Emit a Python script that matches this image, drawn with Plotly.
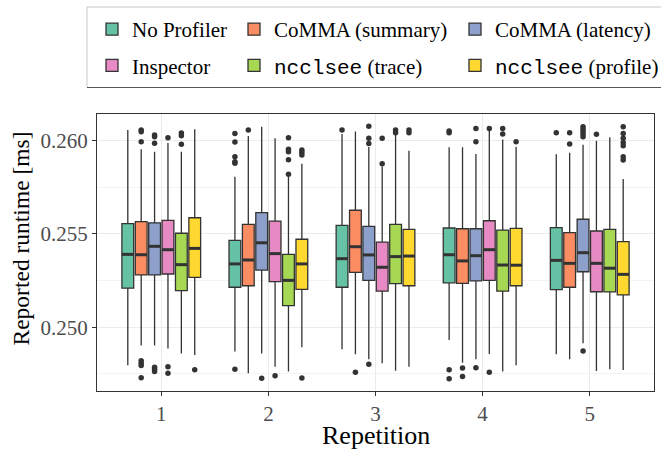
import plotly.graph_objects as go

# ---------------- data ----------------
reps = [1, 2, 3, 4, 5]
series_names = ["No Profiler", "CoMMA (summary)", "CoMMA (latency)", "Inspector",
                "<span style=\"font-family:Liberation Mono\">ncclsee</span> (trace)",
                "<span style=\"font-family:Liberation Mono\">ncclsee</span> (profile)"]
colors = ["#66C2A5", "#FC8D62", "#8DA0CB", "#E78AC3", "#A6D854", "#FFD92F"]

noprof_hi = [0.26055, 0.25805, 0.26034, 0.25963, 0.25925]
noprof_q3 = [0.25554, 0.25465, 0.25545, 0.25531, 0.25533]
noprof_med = [0.25390, 0.25339, 0.25367, 0.25388, 0.25358]
noprof_q1 = [0.25209, 0.25214, 0.25214, 0.25238, 0.25201]
noprof_lo = [0.24797, 0.24870, 0.24882, 0.24932, 0.24856]
noprof_out = [[], [0.26037, 0.25991, 0.25912, 0.25886, 0.25877, 0.24775], [0.26055],
              [0.26050, 0.26041, 0.24773, 0.24725], [0.26041]]

summ_hi = [0.25952, 0.26023, 0.26048, 0.25963, 0.25934]
summ_q3 = [0.25565, 0.25551, 0.25626, 0.25527, 0.25506]
summ_med = [0.25388, 0.25360, 0.25431, 0.25355, 0.25342]
summ_q1 = [0.25280, 0.25222, 0.25294, 0.25235, 0.25214]
summ_lo = [0.24902, 0.24754, 0.24856, 0.24810, 0.24829]
summ_out = [[0.26055, 0.26046, 0.25993, 0.24821, 0.24807, 0.24795, 0.24730], [0.26055],
            [0.24759], [0.24782, 0.24736], [0.26041, 0.25980]]

lat_hi = [0.25939, 0.26073, 0.25965, 0.25927, 0.25977]
lat_q3 = [0.25559, 0.25613, 0.25540, 0.25527, 0.25578]
lat_med = [0.25433, 0.25452, 0.25387, 0.25383, 0.25399]
lat_q1 = [0.25280, 0.25306, 0.25251, 0.25248, 0.25297]
lat_lo = [0.24902, 0.24859, 0.24829, 0.24829, 0.24914]
lat_out = [[0.26028, 0.26019, 0.25984, 0.24786, 0.24775, 0.24763], [0.24727],
           [0.26075, 0.26011, 0.25983, 0.24802], [0.26064, 0.25993, 0.24784],
           [0.26073, 0.26059, 0.26046, 0.26034, 0.26019, 0.24873]]

insp_hi = [0.25986, 0.26011, 0.25860, 0.26050, 0.25998]
insp_q3 = [0.25572, 0.25568, 0.25456, 0.25570, 0.25515]
insp_med = [0.25415, 0.25394, 0.25321, 0.25415, 0.25342]
insp_q1 = [0.25285, 0.25244, 0.25193, 0.25251, 0.25190]
insp_lo = [0.24886, 0.24789, 0.24807, 0.24857, 0.24766]
insp_out = [[0.26014, 0.24789, 0.24754], [0.24741], [0.26011, 0.25875],
            [0.26064, 0.24759], [0.26032]]

trace_hi = [0.25939, 0.25805, 0.26028, 0.26005, 0.26016]
trace_q3 = [0.25503, 0.25390, 0.25551, 0.25520, 0.25524]
trace_med = [0.25335, 0.25251, 0.25378, 0.25333, 0.25316]
trace_q1 = [0.25196, 0.25116, 0.25233, 0.25193, 0.25189]
trace_lo = [0.24859, 0.24763, 0.24768, 0.24763, 0.24775]
trace_out = [[0.26040, 0.26025, 0.25979], [0.26014, 0.25952, 0.25939, 0.25896, 0.25818],
             [0.26055, 0.26041], [0.26064, 0.26034], []]

prof_hi = [0.26060, 0.25875, 0.25944, 0.25966, 0.25793]
prof_q3 = [0.25586, 0.25471, 0.25524, 0.25529, 0.25458]
prof_med = [0.25422, 0.25339, 0.25381, 0.25332, 0.25283]
prof_q1 = [0.25267, 0.25203, 0.25222, 0.25222, 0.25173]
prof_lo = [0.24852, 0.24893, 0.24789, 0.24797, 0.24772]
prof_out = [[0.24773], [0.25948, 0.25936, 0.25921, 0.24729], [0.26055, 0.26041],
            [0.25993], [0.26073, 0.26037, 0.26011, 0.25989, 0.25971, 0.25912, 0.25895]]

y_ticks = [0.250, 0.255, 0.260]

# ---------------- figure ----------------
stats = [
    (noprof_lo, noprof_q1, noprof_med, noprof_q3, noprof_hi, noprof_out),
    (summ_lo, summ_q1, summ_med, summ_q3, summ_hi, summ_out),
    (lat_lo, lat_q1, lat_med, lat_q3, lat_hi, lat_out),
    (insp_lo, insp_q1, insp_med, insp_q3, insp_hi, insp_out),
    (trace_lo, trace_q1, trace_med, trace_q3, trace_hi, trace_out),
    (prof_lo, prof_q1, prof_med, prof_q3, prof_hi, prof_out),
]
legend_for = ["legend", "legend2", "legend3", "legend", "legend2", "legend3"]

n = len(stats)
dodge = 0.75
slot = dodge / n
bw = slot * 0.88
edge = "#333333"

fig = go.Figure()
for i, (lo, q1, med, q3, hi, outs) in enumerate(stats):
    pos = [r + (i - (n - 1) / 2) * slot for r in reps]
    fig.add_trace(go.Box(
        x=pos, lowerfence=lo, q1=q1, median=med, q3=q3, upperfence=hi,
        width=bw, whiskerwidth=0, fillcolor=colors[i],
        line=dict(color=edge, width=1.3), boxpoints=False,
        name=series_names[i], legend=legend_for[i], legendgroup=f"g{i}",
        hoverinfo="skip"))
    mx, my = [], []
    for p, m in zip(pos, med):
        mx += [p - bw / 2, p + bw / 2, None]
        my += [m, m, None]
    fig.add_trace(go.Scatter(x=mx, y=my, mode="lines", line=dict(color=edge, width=3),
                             showlegend=False, hoverinfo="skip"))
    ox, oy = [], []
    for p, o in zip(pos, outs):
        ox += [p] * len(o)
        oy += o
    fig.add_trace(go.Scatter(x=ox, y=oy, mode="markers",
                             marker=dict(color=edge, size=5.5),
                             showlegend=False, hoverinfo="skip"))

font_family = "Liberation Serif"
W, H = 661, 452
ml, mr, mt, mb = 97, 7, 114, 61
pw, ph = W - ml - mr, H - mt - mb

def px2x(px):
    return (px - ml) / pw

def py2y(py):
    return (H - mb - py) / ph

leg_common = dict(orientation="v", bgcolor="rgba(0,0,0,0)", borderwidth=0,
                  font=dict(family=font_family, size=21, color="black"),
                  itemwidth=30, tracegroupgap=6, xanchor="left", yanchor="top",
                  y=py2y(9))

fig.update_layout(
    width=W, height=H,
    margin=dict(l=ml, r=mr, t=mt, b=mb, autoexpand=False),
    paper_bgcolor="white", plot_bgcolor="white",
    font=dict(family=font_family),
    showlegend=True,
    legend=dict(x=px2x(92), **leg_common),
    legend2=dict(x=px2x(234), **leg_common),
    legend3=dict(x=px2x(455), **leg_common),
    xaxis=dict(range=[0.4, 5.6], tickvals=reps, ticktext=[str(r) for r in reps],
               showgrid=True, gridcolor="#EBEBEB", gridwidth=1, zeroline=False,
               ticks="outside", ticklen=4, tickcolor="#333333",
               tickfont=dict(family=font_family, size=21, color="#4D4D4D"),
               showline=True, linecolor="#333333", linewidth=1, mirror=True),
    yaxis=dict(range=[0.24659, 0.26141], tickvals=y_ticks, tickformat=".3f",
               showgrid=True, gridcolor="#EBEBEB", gridwidth=1, zeroline=False,
               minor=dict(dtick=0.0025, showgrid=True, gridcolor="#F3F3F3", gridwidth=1),
               ticks="outside", ticklen=4, tickcolor="#333333",
               tickfont=dict(family=font_family, size=21, color="#4D4D4D"),
               showline=True, linecolor="#333333", linewidth=1, mirror=True),
    annotations=[
        dict(text="Repetition", xref="paper", yref="paper", x=px2x(376), y=py2y(435),
             xanchor="center", yanchor="middle", showarrow=False,
             font=dict(family=font_family, size=26, color="black")),
        dict(text="Reported runtime [ms]", xref="paper", yref="paper", x=px2x(20), y=py2y(238.5),
             xanchor="center", yanchor="middle", showarrow=False, textangle=-90,
             font=dict(family=font_family, size=23.5, color="black")),
    ],
    shapes=[dict(type="rect", xref="paper", yref="paper",
                 x0=px2x(87), x1=px2x(670), y0=py2y(87.5), y1=py2y(7),
                 line=dict(color="#C8C8C8", width=1), fillcolor="rgba(0,0,0,0)", layer="below"),
            dict(type="line", xref="paper", yref="paper",
                 x0=px2x(87), x1=px2x(670), y0=py2y(87.5), y1=py2y(87.5),
                 line=dict(color="#555555", width=1))],
)

fig.write_html("out.html", config={"displayModeBar": False},
               post_script="document.body.style.margin='0';document.body.style.overflow='hidden';")
